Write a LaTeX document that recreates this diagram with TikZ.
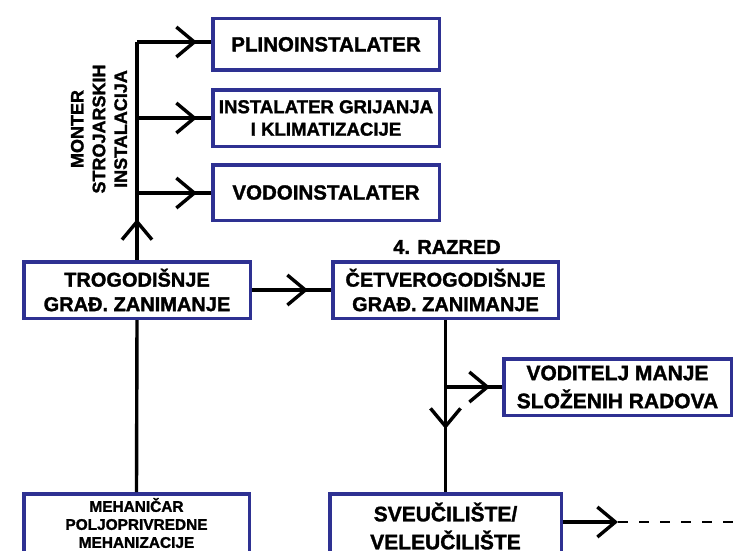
\documentclass[tikz,border=0pt]{standalone}
\usepackage{fontspec}
\setmainfont{Liberation Sans}
\usetikzlibrary{arrows.meta,decorations.markings}
\definecolor{boxblue}{RGB}{46,49,146}
\newcommand{\hvyfont}[2]{\bfseries\fontsize{#1}{#2}\selectfont\addfontfeatures{FakeBold=1.5}}
\tikzset{
  box/.style={draw=boxblue, line width=3.5pt, fill=white, align=center, inner sep=0pt},
  conn/.style={line width=3.4pt, draw=black},
  chev/.tip={Straight Barb[length=18pt,width=30pt]},
  markat/.style={postaction={decorate}, decoration={markings, mark=at position #1 with {\arrow{chev}}}},
  fS/.style={font=\hvyfont{20.5}{25}},
  fA/.style={font=\hvyfont{20}{24.5}},
  fB/.style={font=\hvyfont{18.6}{22.5}},
  fC/.style={font=\hvyfont{21}{28}},
  fD/.style={font=\hvyfont{15.4}{18}},
  fE/.style={font=\hvyfont{18}{21.7}},
}
\begin{document}
\begin{tikzpicture}[x=1pt,y=-1pt]
\useasboundingbox (0,0) rectangle (734,550);
\clip (0,0) rectangle (734,550);
% boxes
\node[box, fS, minimum width=226.5pt, minimum height=51.5pt] (plino) at (326,44.3) {PLINOINSTALATER};
\node[box, fB, minimum width=226.5pt, minimum height=56.5pt] (grij) at (326,118) {INSTALATER GRIJANJA\\I KLIMATIZACIJE};
\node[box, fS, minimum width=226.5pt, minimum height=55.5pt] (vodo) at (326,192.5) {VODOINSTALATER};
\node[box, fA, minimum width=226.5pt, minimum height=56.5pt] (tro) at (137,290) {TROGODIŠNJE\\GRAĐ. ZANIMANJE};
\node[box, fA, minimum width=225.5pt, minimum height=56.5pt] (cet) at (445.5,290) {ČETVEROGODIŠNJE\\GRAĐ. ZANIMANJE};
\node[fA, inner sep=0pt] (raz) at (447,247) {4. RAZRED};
\node[box, fC, minimum width=227.5pt, minimum height=56.5pt] (vodit) at (617.5,387) {VODITELJ MANJE\\SLOŽENIH RADOVA};
\node[box, fC, minimum width=231.5pt, minimum height=64.5pt] (sveu) at (445.5,526) {SVEUČILIŠTE/\\VELEUČILIŠTE};
\node[box, fD, minimum width=225.5pt, minimum height=58.5pt] (meh) at (136.5,523) {MEHANIČAR\\POLJOPRIVREDNE\\MEHANIZACIJE};
\node[fE, rotate=90, align=center, inner sep=0pt] (mont) at (99,129) {MONTER\\STROJARSKIH\\INSTALACIJA};
% branch points
\coordinate (b1) at (137,42);
\coordinate (b2) at (137,118);
\coordinate (b3) at (137,193);
\coordinate (dend) at (734,522);
\coordinate (stip) at (618,522);
% connectors
\draw[conn, markat=41pt] (tro.north) -- (b1);
\draw[conn, markat=-14pt] (b1) -- (b1 -| plino.west);
\draw[conn, markat=-14pt] (b2) -- (b2 -| grij.west);
\draw[conn, markat=-14pt] (b3) -- (b3 -| vodo.west);
\draw[conn, markat=-23pt] (tro.east) -- (cet.west);
\draw[conn, markat=109pt] (cet.south) -- (sveu.north);
\draw[conn, markat=-12pt] (cet.south |- vodit.west) -- (vodit.west);
\draw[conn] (tro.south) -- (meh.north);
\draw[conn, -chev] (sveu.east |- dend) -- (stip);
\draw[line width=2.2pt, dash pattern=on 10pt off 11pt] (stip) -- (dend);
\end{tikzpicture}
\end{document}
